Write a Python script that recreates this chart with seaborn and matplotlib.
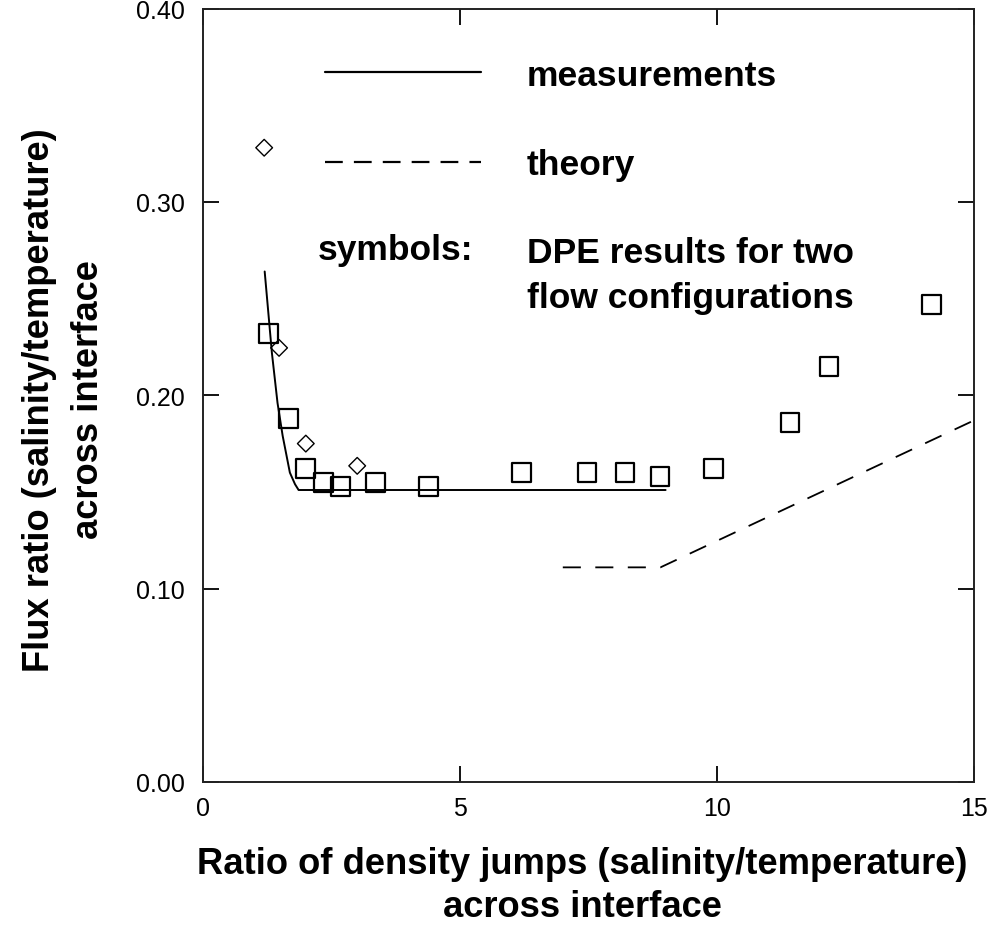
import matplotlib
matplotlib.use("Agg")
import matplotlib.pyplot as plt
from matplotlib.lines import Line2D
import seaborn as sns
import pandas as pd

# ---- data ----
meas_x = [1.20, 1.34, 1.45, 1.55, 1.69, 1.79, 1.86, 9.0]
meas_y = [0.264, 0.222, 0.196, 0.179, 0.160, 0.154, 0.151, 0.151]

theory_x = [7.0, 8.9, 15.0]
theory_y = [0.111, 0.111, 0.187]

sq_x = [1.28, 1.66, 2.00, 2.34, 2.67, 3.36, 4.38, 6.20, 7.47, 8.21, 8.89, 9.93, 11.42, 12.18, 14.18]
sq_y = [0.232, 0.188, 0.162, 0.155, 0.153, 0.155, 0.153, 0.160, 0.160, 0.160, 0.158, 0.162, 0.186, 0.215, 0.247]

dm_x = [1.19, 1.48, 2.00, 3.00]
dm_y = [0.328, 0.2245, 0.175, 0.1635]

x_ticks = [0, 5, 10, 15]
y_ticks = [0.0, 0.1, 0.2, 0.3, 0.4]
y_tick_labels = ["0.00", "0.10", "0.20", "0.30", "0.40"]

xlabel = "Ratio of density jumps (salinity/temperature)\nacross interface"
ylabel = "Flux ratio (salinity/temperature)\nacross interface"
legend_labels = ["measurements", "theory"]
symbols_label = "symbols:"
symbols_text = "DPE results for two\nflow configurations"

# ---- style ----
sns.set_style("ticks")
plt.rcParams["font.family"] = ["Liberation Sans", "DejaVu Sans"]
plt.rcParams["text.color"] = "black"

W, H = 996, 929
fig = plt.figure(figsize=(W / 100, H / 100), dpi=100)
ax = fig.add_axes([203 / W, 1 - 783 / H, (974 - 203) / W, (783 - 9.5) / H])

df_meas = pd.DataFrame({"x": meas_x, "y": meas_y})
df_theory = pd.DataFrame({"x": theory_x, "y": theory_y})
df_sq = pd.DataFrame({"x": sq_x, "y": sq_y})
df_dm = pd.DataFrame({"x": dm_x, "y": dm_y})

sns.lineplot(data=df_meas, x="x", y="y", ax=ax, color="black", lw=1.4,
             sort=False, estimator=None)
sns.lineplot(data=df_theory, x="x", y="y", ax=ax, color="black", lw=1.3,
             sort=False, estimator=None, linestyle=(0, (10, 8)))
sns.scatterplot(data=df_sq, x="x", y="y", ax=ax, marker="s", s=13.5 ** 2,
                facecolor="none", edgecolor="black", linewidth=1.6, zorder=3)
sns.scatterplot(data=df_dm, x="x", y="y", ax=ax, marker="D", s=8.5 ** 2,
                facecolor="none", edgecolor="black", linewidth=1.0, zorder=3)

ax.set_xlim(0, 15)
ax.set_ylim(0, 0.4)
ax.set_xticks(x_ticks)
ax.set_xticklabels([str(t) for t in x_ticks])
ax.set_yticks(y_ticks)
ax.set_yticklabels(y_tick_labels)
ax.set_xlabel("")
ax.set_ylabel("")

for sp in ax.spines.values():
    sp.set_visible(True)
    sp.set_linewidth(1.4)
    sp.set_color("#222222")

ax.tick_params(axis="both", direction="in", length=11.5, width=1.3,
               top=True, right=True, labelsize=18, colors="black")
ax.tick_params(axis="y", pad=13)
ax.tick_params(axis="x", pad=10)

# legend for the two lines
handles = [Line2D([], [], color="black", lw=1.6),
           Line2D([], [], color="black", lw=1.6, linestyle=(0, (8, 5)))]
leg = ax.legend(handles, legend_labels, loc="center left",
                bbox_to_anchor=(325 / W, 1 - 121 / H), bbox_transform=fig.transFigure,
                frameon=False, handlelength=4.4, handletextpad=1.3,
                labelspacing=1.6, borderpad=0, borderaxespad=0,
                prop={"weight": "bold", "size": 25.5})
for t in leg.get_texts():
    t.set_color("black")

fig.text(318 / W, 1 - 251 / H, symbols_label, ha="left", va="center",
         fontsize=25.5, fontweight="bold")
fig.text(527 / W, 1 - 276 / H, symbols_text, ha="left", va="center",
         fontsize=25.5, fontweight="bold", linespacing=1.48)

fig.text(582 / W, 1 - 886 / H, xlabel, ha="center", va="center",
         fontsize=26.2, fontweight="bold", linespacing=1.3, multialignment="center")
fig.text(64 / W, 1 - 400 / H, ylabel, ha="center", va="center", rotation=90,
         fontsize=26.2, fontweight="bold", linespacing=1.5, multialignment="center")

fig.savefig("out.png", dpi=100)
